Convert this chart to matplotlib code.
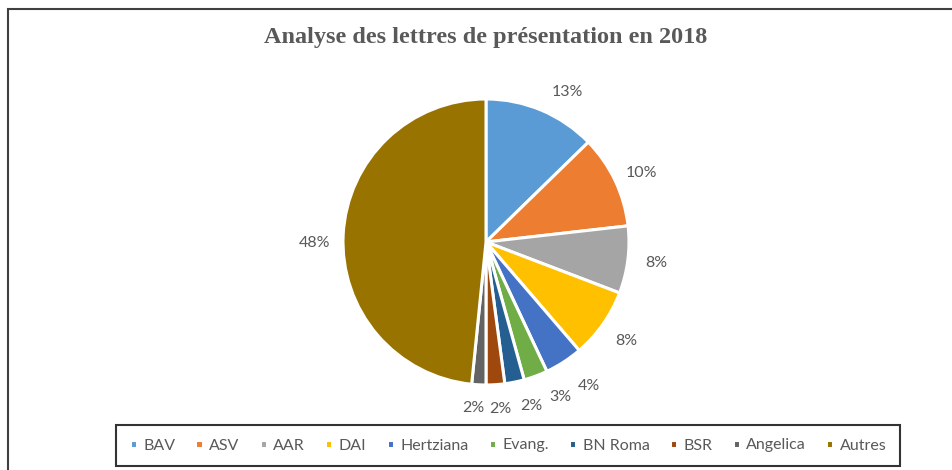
import matplotlib.pyplot as plt
from matplotlib.patches import Rectangle

# Data
labels = ['BAV', 'ASV', 'AAR', 'DAI', 'Hertziana', 'Evang.', 'BN Roma', 'BSR', 'Angelica', 'Autres']
values = [12.7, 10.5, 7.6, 7.9, 4.3, 2.7, 2.2, 2.1, 1.6, 48.4]
colors = ['#5B9BD5', '#ED7D31', '#A5A5A5', '#FFC000', '#4472C4',
          '#70AD47', '#255E91', '#9E480E', '#636363', '#997300']

txt_color = '#595959'

fig = plt.figure(figsize=(9.52, 4.7), dpi=100)

# outer chart border (cropped on the right and bottom)
fig.patches.append(Rectangle((8 / 952, -0.5), 2, 0.5 + 1 - 9 / 470, transform=fig.transFigure,
                             fill=False, edgecolor='#404040', linewidth=1.5))

ax = fig.add_axes([0.3603, 0.1809, 0.3004, 0.6085])
wedges, texts, autotexts = ax.pie(values, colors=colors, startangle=90, counterclock=False,
                                  autopct='%.0f%%', pctdistance=1.2,
                                  wedgeprops=dict(edgecolor='white', linewidth=2.2),
                                  textprops=dict(color=txt_color, fontsize=11.5, family='Lato'))
ax.set_xlim(-1, 1)
ax.set_ylim(-1, 1)
ax.set_aspect('equal')

# nudge labels roughly where Excel put them
nudge = {0: (0.1, -0.055), 1: (0.0, -0.035), 4: (0.07, 0.0), 5: (0.1, 0.04),
         6: (0.08, 0.03), 7: (0.02, 0.03), 8: (-0.03, 0.04), 9: (0.0, -0.07)}
for i, (dx, dy) in nudge.items():
    x, y = autotexts[i].get_position()
    autotexts[i].set_position((x + dx, y + dy))

fig.text(0.5105, 1 - 37 / 470, 'Analyse des lettres de présentation en 2018', ha='center', va='center',
         fontsize=17.5, fontweight='bold', family='Liberation Serif', color=txt_color)

leg = fig.legend(wedges, labels, ncol=10, loc='center', mode='expand',
                 bbox_to_anchor=(108 / 952, 1 - 467 / 470, 800 / 952, 43 / 470),
                 prop=dict(family='Lato', size=11.5), labelcolor=txt_color,
                 handlelength=0.45, handleheight=0.45, handletextpad=0.4,
                 borderpad=0.85, fancybox=False, frameon=True)
leg.get_frame().set_edgecolor('black')
leg.get_frame().set_linewidth(1.5)

plt.savefig('out.png', dpi=100)
